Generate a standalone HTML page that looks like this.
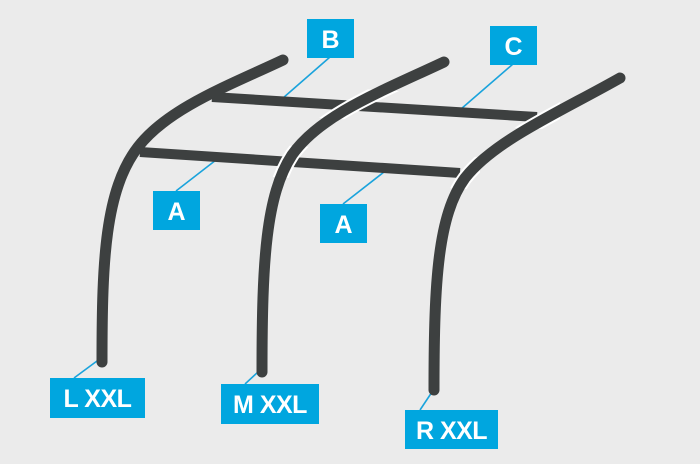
<!DOCTYPE html>
<html><head><style>
html,body{margin:0;padding:0;background:#ebebeb;}
svg{display:block}
text{font-family:"Liberation Sans",sans-serif;font-weight:bold;fill:#fff;}
</style></head><body>
<svg width="700" height="464" viewBox="0 0 700 464" xmlns="http://www.w3.org/2000/svg">
<defs>
<clipPath id="cb">
<polygon points="200,80 560,100 560,130 200,112"/>
<polygon points="130,136 480,157 480,190 130,168"/>
</clipPath>
</defs>
<rect x="0" y="0" width="700" height="464" fill="#ebebeb"/>
<!-- leaders -->
<g stroke="#1aa3dc" stroke-width="1.6">
<line x1="330" y1="57" x2="283" y2="98"/>
<line x1="513" y1="64" x2="461" y2="109"/>
<line x1="176" y1="191" x2="216" y2="160"/>
<line x1="343" y1="204" x2="384" y2="172"/>
<line x1="74" y1="378" x2="97" y2="361"/>
<line x1="245" y1="384" x2="258" y2="372"/>
<line x1="420" y1="410" x2="432" y2="392"/>
</g>
<!-- crossbars -->
<g stroke="#3d4040" stroke-width="10">
<line x1="212" y1="97" x2="537" y2="117"/>
<line x1="140" y1="152" x2="460" y2="173"/>
</g>
<!-- poles with halo -->
<g fill="none" stroke-linecap="round">
<g stroke="#fff" stroke-width="15" clip-path="url(#cb)">
<path d="M262,372 C262,260 266,195 292,155 C320,115 380,92 444,62"/>
<path d="M434,390 C434,280 438,215 465,178 C495,140 560,112 620,78"/>
</g>
<g stroke="#3d4040" stroke-width="11">
<path d="M102,362 C102,260 105,190 138,147 C168,108 230,85 283,60"/>
<path d="M262,372 C262,260 266,195 292,155 C320,115 380,92 444,62"/>
<path d="M434,390 C434,280 438,215 465,178 C495,140 560,112 620,78"/>
</g>
</g>
<!-- boxes -->
<g fill="#00a6df">
<rect x="307" y="19" width="47" height="39"/>
<rect x="490" y="26" width="47" height="39"/>
<rect x="153" y="191" width="47" height="39"/>
<rect x="320" y="204" width="47" height="39"/>
<rect x="50" y="378" width="95" height="40"/>
<rect x="221" y="384" width="98" height="40"/>
<rect x="405" y="410" width="93" height="39"/>
</g>
<g font-size="25" text-anchor="middle">
<text x="330.5" y="48">B</text>
<text x="513.5" y="55">C</text>
<text x="176.5" y="220">A</text>
<text x="343.5" y="233">A</text>
<text x="97.5" y="407" letter-spacing="-0.5">L XXL</text>
<text x="270" y="413" letter-spacing="-0.5">M XXL</text>
<text x="451.5" y="439" letter-spacing="-0.5">R XXL</text>
</g>
</svg>
</body></html>
